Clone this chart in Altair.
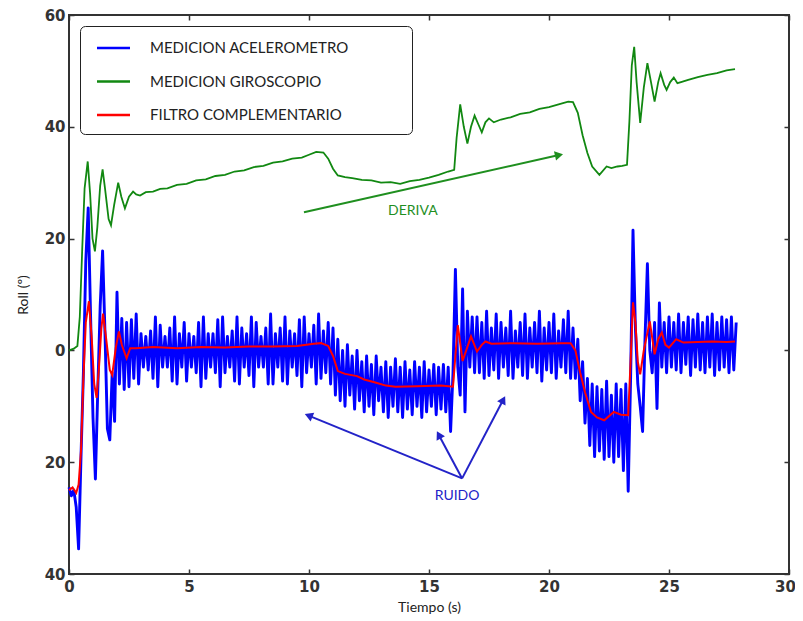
import math
import altair as alt
import numpy as np
import pandas as pd

# ---------------- data ----------------
ACC_DT = 0.1  # sampling step of the accelerometer trace (s)
acc_values = [
    -24.5, -26, -25, -28, -35.5, -19, -4, 16, 25.5, 6,
    -12, -23, -7, 8, 17.8, 3, -14, -16, -4, -12.7,
    10.4, -6, 5.7, -7, 5, -6.5, 5.5, -5, 6.5, -6,
    3, -3, 2.5, -3.5, 3.5, -5, 6, -6.5, 4.5, -3,
    2.5, -3, 4, -5.5, 6, -6, 3, -3, 5, -5.5,
    3, -3, 2.5, -4, 5, -6.5, 6, -5, 3, -3,
    3, -4, 5.5, -6.5, 6, -4, 2.5, -3, 3.5, -5.5,
    6, -6, 4, -3, 3, -4.5, 6, -6.5, 5, -3,
    2.5, -3, 4, -6, 6.5, -6, 3, -3, 4, -5.5,
    6, -6, 3.5, -3, 3, -4.5, 5.5, -6.5, 6, -4,
    3, -3, 4.5, -6, 6.5, -5, 3.5, -4, 5, -6,
    4, -8, 2, -9, 0, -10, 1, -8, -1, -10.5,
    0, -9, -2, -11, -1, -10, -2.5, -11.5, -1, -9,
    -3, -11, -2, -12, -3, -10, -1.5, -11, -3, -12,
    -2, -10.5, -3.5, -11.5, -2, -10, -3, -12, -2, -11,
    -3.5, -10, -2.5, -11.5, -3, -10.5, -2.5, -11, -3, -14.5,
    -4, 14.5, -3, -8, 11, -11, 7, -3, 6, -4,
    6, -4, 5, -5, 7, -4.5, 4, -3.5, 6.5, -5,
    5, -3, 4, -4.5, 7, -5, 3.5, -3, 5, -4.5,
    6.5, -5, 4, -3, 5, -4, 7, -5.5, 4, -3.5,
    5, -4, 6.5, -5, 3.5, -3, 5.5, -4, 7, -5,
    4, -5, 2, -9, -2, -13, -5, -17, -6, -19,
    -6.5, -18, -7, -19.5, -5.5, -19, -8, -20, -6, -19,
    -7, -21.5, -6, -25.2, -5, 21.5, 4, -6, -10, -14.5,
    2, 15.5, 0, -4, 5, -10.4, 8.5, -3, 5, -4,
    6, -3, 5, -3.5, 6.5, -4, 5, -2.5, 6, -4.5,
    5.5, -3, 6.5, -3.5, 5, -4, 6, -3, 6.5, -4.5,
    5, -3.5, 6, -3, 5.5, -4, 6, -3.5, 5,
]

gyro_t = [
    0, 0.2, 0.35, 0.45, 0.55, 0.65, 0.78, 0.88, 0.98, 1.08,
    1.18, 1.3, 1.4, 1.5, 1.65, 1.75, 1.88, 2.05, 2.18, 2.33,
    2.5, 2.67, 2.8, 2.96, 3.2, 3.5, 3.8, 4.1, 4.5, 4.9,
    5.3, 5.7, 6.1, 6.5, 6.9, 7.3, 7.7, 8.1, 8.5, 8.9,
    9.3, 9.7, 10.0, 10.3, 10.6, 10.8, 11.0, 11.2, 11.5, 11.8,
    12.2, 12.6, 13.0, 13.4, 13.8, 14.2, 14.6, 15.0, 15.4, 15.8,
    16.05, 16.15, 16.3, 16.45, 16.6, 16.75, 16.9, 17.05, 17.2, 17.35,
    17.5, 17.7, 18.0, 18.4, 18.8, 19.2, 19.6, 20.0, 20.4, 20.8,
    21.0, 21.2, 21.4, 21.6, 21.8, 22.1, 22.4, 22.6, 22.85, 23.05,
    23.25, 23.35, 23.45, 23.55, 23.65, 23.8, 23.95, 24.1, 24.25, 24.4,
    24.55, 24.65, 24.8, 24.9, 25.05, 25.2, 25.35, 25.5, 25.8, 26.2,
    26.6, 27.0, 27.4, 27.75,
]
gyro_v = [
    0, 0.3, 0.8, 6, 18, 29, 33.8, 28, 20, 17.7,
    22, 29.5, 32.4, 29, 23.5, 22.4, 26, 30, 27.5, 25.4,
    27.5, 28.4, 27.9, 27.7, 28.3, 28.4, 28.9, 29.0, 29.6, 29.8,
    30.4, 30.6, 31.2, 31.4, 32.0, 32.2, 32.8, 33.0, 33.6, 33.8,
    34.3, 34.5, 35.0, 35.5, 35.4, 34.3, 32.5, 31.3, 31.0, 30.8,
    30.5, 30.4, 30.0, 30.1, 29.8, 30.3, 30.5, 30.9, 31.4, 32.0,
    32.3, 38, 44, 40, 37, 40, 42, 40.5, 39, 40.8,
    41.5, 40.8, 41.3, 41.7, 42.3, 42.6, 43.2, 43.5, 44.0, 44.5,
    44.4, 42.5, 38.5, 35.3, 32.9, 31.4, 32.9, 32.6, 32.9, 33.0,
    33.2, 41, 51, 54.3, 48, 40.7, 47, 51.4, 48, 44.5,
    48, 49.6, 47.5, 46.6, 48, 48.8, 47.8, 48, 48.4, 48.9,
    49.3, 49.6, 50.1, 50.3,
]

filt_t = [
    0.0, 0.15, 0.3, 0.4, 0.5, 0.6, 0.7, 0.83, 0.95, 1.05,
    1.15, 1.25, 1.35, 1.42, 1.55, 1.7, 1.8, 1.95, 2.08, 2.2,
    2.4, 2.55, 2.8, 3.5, 4.5, 5.5, 6.5, 7.5, 8.5, 9.5,
    10.2, 10.5, 10.8, 11.0, 11.2, 11.5, 12.0, 12.3, 12.8, 13.2,
    13.6, 14.5, 15.5, 16.0, 16.1, 16.2, 16.4, 16.55, 16.75, 17.0,
    17.2, 17.35, 17.6, 18.5, 19.5, 20.5, 20.9, 21.1, 21.3, 21.5,
    21.75, 22.0, 22.3, 22.7, 23.0, 23.3, 23.4, 23.5, 23.6, 23.7,
    23.8, 23.95, 24.2, 24.4, 24.55, 24.7, 24.85, 25.0, 25.3, 25.6,
    26.2, 26.8, 27.4, 27.75,
]
filt_v = [
    -25, -24.5, -25.5, -24, -18, -5, 5, 8.8, 2, -6,
    -8.5, -3, 4, 6.6, 2, -3.5, -4.4, 0.5, 3.4, 1,
    -1.4, 0.4, 0.4, 0.6, 0.4, 0.6, 0.5, 0.7, 0.7, 0.8,
    1.2, 1.3, 0.8, -1, -3.7, -4.2, -4.6, -5.2, -5.8, -6.3,
    -6.5, -6.4, -6.3, -6.5, -1, 4.5, -1.9, 0, 2.5, -0.2,
    1, 1.6, 1.2, 1.3, 1.2, 1.3, 1.3, 0, -4, -7.5,
    -11, -12, -12.5, -11, -11.5, -11.6, -2, 8.6, 5, -2,
    -4.3, 0, 5.2, -0.7, 2, 3.2, 1, 0.5, 2, 1.4,
    1.5, 1.6, 1.5, 1.6,
]

series_names = ["MEDICION ACELEROMETRO", "MEDICION GIROSCOPIO", "FILTRO COMPLEMENTARIO"]
series_colors = ["#0000ff", "#118811", "#ff0000"]

x_ticks = [0, 5, 10, 15, 20, 25, 30]
y_ticks = [-40, -20, 0, 20, 40, 60]
x_domain = [0, 30]
y_domain = [-40, 60]

# annotations (arrows start -> tip, in data units)
arrow_t1 = [9.79, 16.38, 16.38, 16.38]
arrow_v1 = [24.7, -22.9, -22.9, -22.9]
arrow_t2 = [20.58, 9.83, 15.33, 18.17]
arrow_v2 = [35.1, -11.4, -14.5, -8.2]
arrow_colors = ["#1f8f1f", "#2323c8", "#2323c8", "#2323c8"]
note_text = ["DERIVA", "RUIDO"]
note_t = [14.33, 16.17]
note_v = [24.9, -26.1]
note_colors = ["#1f8f1f", "#2323c8"]

# ---------------- layout ----------------
W, H = 720, 559
px_x = W / (x_domain[1] - x_domain[0])
px_y = H / (y_domain[1] - y_domain[0])

acc_df = pd.DataFrame({
    "t": np.round(np.arange(len(acc_values)) * ACC_DT, 3),
    "v": acc_values,
    "serie": series_names[0],
})
gyro_df = pd.DataFrame({"t": gyro_t, "v": gyro_v, "serie": series_names[1]})
filt_df = pd.DataFrame({"t": filt_t, "v": filt_v, "serie": series_names[2]})

# arrow heads: angle from the arrow direction in screen space
angles, head_t, head_v = [], [], []
for t1, v1, t2, v2 in zip(arrow_t1, arrow_v1, arrow_t2, arrow_v2):
    dx = (t2 - t1) * px_x
    dy = -(v2 - v1) * px_y
    a = math.degrees(math.atan2(dx, -dy)) % 360
    angles.append(a)
    back = 4.0
    head_t.append(t2 - back * math.sin(math.radians(a)) / px_x)
    head_v.append(v2 - back * math.cos(math.radians(a)) / px_y)
arrow_df = pd.DataFrame({
    "t1": arrow_t1, "v1": arrow_v1, "t2": head_t, "v2": head_v,
    "ang": angles, "col": arrow_colors,
})
note_df = pd.DataFrame({"t": note_t, "v": note_v, "txt": note_text, "col": note_colors})

xs = alt.Scale(domain=x_domain, nice=False, zero=False)
ys = alt.Scale(domain=y_domain, nice=False, zero=False)
color_scale = alt.Scale(domain=series_names, range=series_colors)

tick_common = dict(offset=-5, tickSize=5, domain=False, grid=False,
                   tickColor="#333333", tickWidth=1.5)

x_bottom = alt.Axis(
    values=x_ticks, orient="bottom", labelPadding=5, labelFlush=False,
    titlePadding=6,
    labelOffset={"condition": {"test": "datum.value == 30", "value": -4}, "value": 0},
    **tick_common,
)
y_left = alt.Axis(values=y_ticks, orient="left", labelPadding=4,
                  labelExpr="'' + abs(datum.value)", titlePadding=14, **tick_common)
x_top = alt.Axis(values=x_ticks, orient="top", labels=False, title=None, **tick_common)
y_right = alt.Axis(values=y_ticks, orient="right", labels=False, title=None, **tick_common)

legend = alt.Legend(
    title=None, orient="none", legendX=11, legendY=11,
    symbolType="M-0.5,0L2.8,0", symbolSize=400, symbolStrokeWidth=2.5,
    labelOffset=36.5, rowPadding=13.5, padding=10.5,
    strokeColor="#222222", fillColor="white", cornerRadius=5,
    labelFont="Lato", labelFontSize=15, labelColor="#222222", labelLimit=500,
    labelExpr="datum.label + '\u2003\u2003\u2003\u2003\u2002\u200b'",
)

blue = alt.Chart(acc_df).mark_line(strokeWidth=2.9, strokeJoin="round").encode(
    x=alt.X("t:Q", scale=xs, axis=x_bottom, title="Tiempo (s)"),
    y=alt.Y("v:Q", scale=ys, axis=y_left, title="Roll (º)"),
    color=alt.Color("serie:N", scale=color_scale, legend=legend),
)
green = alt.Chart(gyro_df).mark_line(strokeWidth=1.8).encode(
    x=alt.X("t:Q", scale=xs, axis=x_top),
    y=alt.Y("v:Q", scale=ys, axis=y_right),
    color=alt.Color("serie:N", scale=color_scale, legend=legend),
)
red = alt.Chart(filt_df).mark_line(strokeWidth=2).encode(
    x=alt.X("t:Q", scale=xs, axis=None),
    y=alt.Y("v:Q", scale=ys, axis=None),
    color=alt.Color("serie:N", scale=color_scale, legend=legend),
)

arrow_lines = alt.Chart(arrow_df).mark_rule(strokeWidth=2).encode(
    x=alt.X("t1:Q", scale=xs, axis=None),
    y=alt.Y("v1:Q", scale=ys, axis=None),
    x2="t2:Q", y2="v2:Q",
    color=alt.Color("col:N", scale=None),
)
arrow_heads = alt.Chart(arrow_df).mark_point(shape="triangle-up", filled=True, size=90, opacity=1).encode(
    x=alt.X("t2:Q", scale=xs, axis=None),
    y=alt.Y("v2:Q", scale=ys, axis=None),
    angle=alt.Angle("ang:Q", scale=None),
    color=alt.Color("col:N", scale=None),
)
notes = alt.Chart(note_df).mark_text(font="Lato", fontSize=14).encode(
    x=alt.X("t:Q", scale=xs, axis=None),
    y=alt.Y("v:Q", scale=ys, axis=None),
    text="txt:N",
    color=alt.Color("col:N", scale=None),
)

chart = alt.layer(blue, green, red, arrow_lines, arrow_heads, notes).properties(
    width=W, height=H,
    autosize=alt.AutoSizeParams(type="none"),
    padding={"left": 61, "top": 7, "right": 6, "bottom": 44},
).configure_view(
    stroke="#333333", strokeWidth=2,
).configure_axis(
    labelFont="DejaVu Sans", labelFontWeight="bold", labelFontSize=15,
    labelColor="#333333", titleFont="Lato", titleFontSize=14,
    titleFontWeight="normal", titleColor="#222222",
)

chart.save("out.html", embed_options={"renderer": "svg", "actions": False})
